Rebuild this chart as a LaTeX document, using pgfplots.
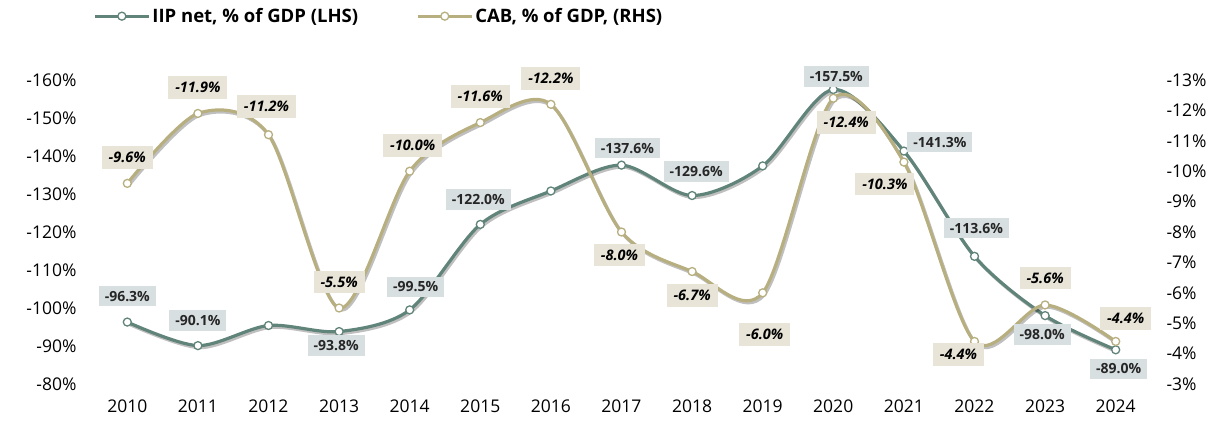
\documentclass[border=0pt]{standalone}
\usepackage{pgfplots}
\pgfplotsset{compat=1.18}
\usepackage{pgfplotstable}
\usepackage{fontspec}
\setmainfont{Open Sans}
\definecolor{iip}{HTML}{608479}
\definecolor{cab}{HTML}{B8AF80}
\definecolor{iipbox}{HTML}{D8DFE1}
\definecolor{cabbox}{HTML}{E8E5D8}

\pgfplotstableread{
x y
2010 -96.3
2011 -90.1
2012 -95.4
2013 -93.8
2014 -99.5
2015 -122.0
2016 -130.8
2017 -137.6
2018 -129.6
2019 -137.4
2020 -157.5
2021 -141.3
2022 -113.6
2023 -98.0
2024 -89.0
}\iipdata

\pgfplotstableread{
x y dx dy
2010 -96.3 0 26
2011 -90.1 0 25
2013 -93.8 -3 -14
2014 -99.5 6 23
2015 -122.0 -2 25
2017 -137.6 6 17
2018 -129.6 4 24
2020 -157.5 3 13
2021 -141.3 36 9
2022 -113.6 2 28
2023 -98.0 -3 -19
2024 -89.0 3 -19
}\iiplab

\pgfplotstableread{
x y dx dy
2010 -9.6 0 26
2011 -11.9 0 26
2012 -11.2 -2 28
2013 -5.5 0 26
2014 -10.0 3 26
2015 -11.6 0 26
2016 -12.2 0 26
2017 -8.0 -2 -23
2018 -6.7 0 -24
2019 -6.0 2 -42
2020 -12.4 13 -24
2021 -10.3 -19 -22
2022 -4.4 -16 -13
2023 -5.6 0 27
2024 -4.4 10 23
}\cabdata

\pgfplotsset{
  mylab/.style={
    draw=none, mark=none, forget plot,
    nodes near coords={\pgfmathprintnumber[fixed,fixed zerofill,precision=1,assume math mode=true]{\pgfplotspointmeta}\%},
    visualization depends on={\thisrow{dx} \as \dx},
    visualization depends on={\thisrow{dy} \as \dy},
  },
  base/.style={
    scale only axis, width=1059pt, height=304pt,
    xmin=2009.5, xmax=2024.5,
    y dir=reverse,
    axis line style={draw=none},
    major tick style={draw=none},
    tick label style={font=\fontsize{17.5}{20}\selectfont},
    /pgf/number format/assume math mode=true,
    clip=false,
  },
}

\begin{document}
\begin{tikzpicture}
\begin{axis}[base,
  at={(0pt,0pt)}, anchor=south west,
  ymin=-160, ymax=-80,
  ytick={-160,-150,...,-80},
  yticklabel={\pgfmathprintnumber{\tick}\%},
  yticklabel style={xshift=-12pt},
  xtick={2010,...,2024},
  xticklabel={\pgfmathprintnumber[set thousands separator={}]{\tick}},
  xticklabel style={yshift=-12pt},
  legend columns=2,
  legend style={draw=none, fill=none, at={(0.001,1.21)}, anchor=west,
    font=\fontsize{18.5}{21}\selectfont\bfseries,
    /tikz/every even column/.append style={column sep=56pt},
    /tikz/every odd column/.append style={column sep=0pt},
    inner sep=0pt, nodes={inner xsep=2pt}},
  legend image code/.code={\draw[#1, mark repeat=2, mark phase=2] plot coordinates {(0pt,0pt) (27pt,0pt) (54pt,0pt)};},
]
\addplot[black, opacity=0.25, line width=3.2pt, smooth, forget plot, transform canvas={xshift=1.5pt, yshift=-2pt}] table[x=x,y=y] {\iipdata};
\addplot[iip, line width=3.2pt, smooth, mark=*, mark size=4pt, mark options={fill=white, draw=iip, line width=1.3pt}] table[x=x,y=y] {\iipdata};
\addlegendentry{IIP net, \% of GDP (LHS)}
\addlegendimage{cab, line width=3.2pt, mark=*, mark size=4pt, mark options={fill=white, draw=cab, line width=1.3pt}}
\addlegendentry{CAB, \% of GDP, (RHS)}
\end{axis}
\begin{axis}[base,
  at={(0pt,0pt)}, anchor=south west,
  ymin=-13, ymax=-3,
  axis y line*=right, axis x line=none,
  ytick={-13,-12,...,-3},
  yticklabel={\pgfmathprintnumber{\tick}\%},
  yticklabel style={xshift=12pt},
]
\addplot[black, opacity=0.25, line width=3.2pt, smooth, forget plot, transform canvas={xshift=1.5pt, yshift=-2pt}] table[x=x,y=y] {\cabdata};
\addplot[cab, line width=3.2pt, smooth, mark=*, mark size=4pt, mark options={fill=white, draw=cab, line width=1.3pt}] table[x=x,y=y] {\cabdata};
\addplot[mylab, nodes near coords style={font=\fontsize{14.5}{16}\selectfont\bfseries\itshape, fill=cabbox, text=black, inner xsep=7pt, inner ysep=6pt, anchor=center, xshift=\dx pt, yshift=\dy pt}] table[x=x,y=y] {\cabdata};
\end{axis}
\begin{axis}[base,
  at={(0pt,0pt)}, anchor=south west,
  ymin=-160, ymax=-80, hide axis,
]
\addplot[mylab, nodes near coords style={font=\fontsize{14}{16}\selectfont\bfseries, fill=iipbox, text=black!85, inner xsep=6pt, inner ysep=5pt, anchor=center, xshift=\dx pt, yshift=\dy pt}] table[x=x,y=y] {\iiplab};
\end{axis}
\path[use as bounding box] (-92pt,-39pt) rectangle (1137pt,384pt);
\end{tikzpicture}
\end{document}
